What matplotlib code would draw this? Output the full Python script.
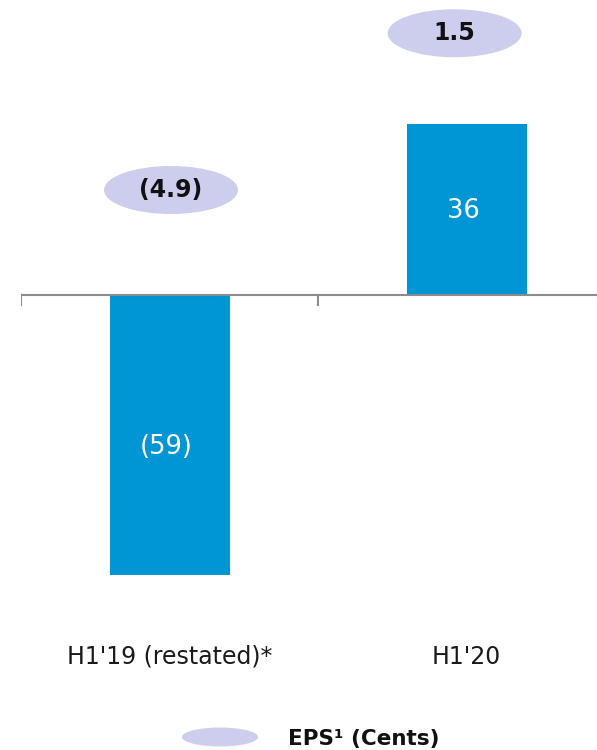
import matplotlib
matplotlib.use('Agg')
import matplotlib.pyplot as plt
from matplotlib.patches import Ellipse

# data
periods = ["H1'19 (restated)*", "H1'20"]
profit = [-59, 36]
profit_labels = ['(59)', '36']
eps = [-4.9, 1.5]
eps_labels = ['(4.9)', '1.5']

BAR_BLUE = '#0096D6'
BUBBLE = '#CDCDEE'
AXIS_GREY = '#8C8C8C'

plt.rcParams['font.family'] = ['DejaVu Sans']

W, H = 597, 750
fig = plt.figure(figsize=(W / 100, H / 100), dpi=100)

# one category = 297 px wide, axes start at x=21 px
cat_px = 297.0
ax = fig.add_axes([21 / W, 0, (W - 21) / W, 1])
ax.set_xlim(-0.5, -0.5 + (W - 21) / cat_px)
# 4.75 px per unit, zero line at y=294.5 px from the top
ppu = 4.75
ax.set_ylim(-(H - 294.5) / ppu, 294.5 / ppu)
ax.axis('off')

x = list(range(len(periods)))
bars = ax.bar(x, profit, width=120 / cat_px, color=BAR_BLUE, zorder=2)

# zero line with tick marks at the category boundaries
ax.axhline(0, color=AXIS_GREY, lw=1.5, zorder=3)
tick_len = 10 / ppu
for b in [-0.5, 0.5, 1.5]:
    ax.plot([b, b], [0, -tick_len], color=AXIS_GREY, lw=1.5, zorder=3)

# values inside bars
label_y = [-32, 17.5]
for xi, yi, t in zip(x, label_y, profit_labels):
    ax.text(xi - 0.01, yi, t, color='white', fontsize=18.5, ha='center', va='center', zorder=4)

# category labels below
for xi, t in zip(x, periods):
    ax.text(xi, -76.3, t, color='#1A1A1A', fontsize=17, ha='center', va='center')

# EPS bubbles
bubble_pos = [(0.005, 22.0), (0.96, 55.0)]
for (bx, by), t in zip(bubble_pos, eps_labels):
    ax.add_patch(Ellipse((bx, by), 134 / cat_px, 48 / ppu, facecolor=BUBBLE,
                         edgecolor='none', zorder=3))
    ax.text(bx, by, t, fontsize=17, fontweight='bold', color='#111111',
            ha='center', va='center', zorder=4)

# legend
fig.patches.append(Ellipse((220 / W, 1 - 737 / H), 76 / W, 19 / H, facecolor=BUBBLE,
                           edgecolor='none', transform=fig.transFigure))
fig.text(288 / W, 1 - 739 / H, 'EPS\u00b9 (Cents)', fontsize=15.5, fontweight='bold',
         color='#111111', ha='left', va='center')

fig.savefig('out.png', dpi=100)
